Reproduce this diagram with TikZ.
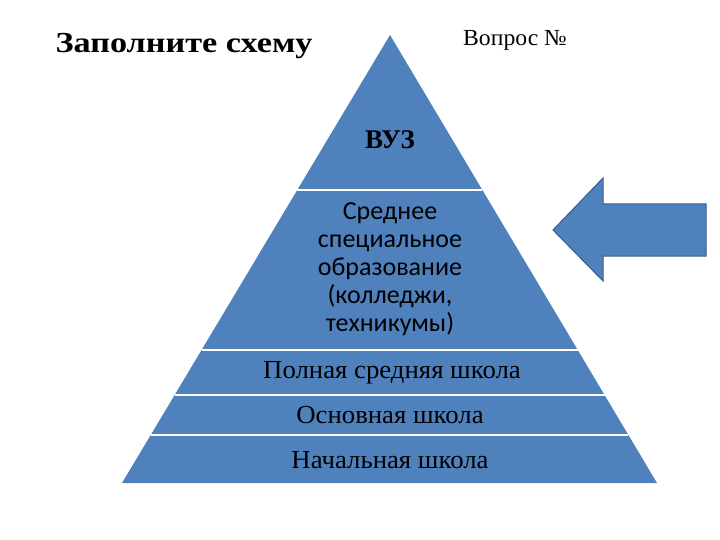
\documentclass[tikz,border=0pt]{standalone}
\usepackage{fontspec}
\setmainfont{Liberation Serif}
\newfontfamily\calib{Carlito}
\definecolor{pblue}{HTML}{4F81BD}
\definecolor{pedge}{HTML}{385D8A}
\begin{document}
\begin{tikzpicture}[x=1pt,y=-1pt,
  lbl/.style={inner sep=0pt,anchor=center},
  tier/.style={lbl,font=\fontsize{26}{30}\selectfont,xscale=1.03}]
\useasboundingbox (0,0) rectangle (720,540);
\coordinate (A) at (390,35);
\coordinate (L1) at (297.3,190); \coordinate (R1) at (482.4,190);
\coordinate (L2) at (201.6,350); \coordinate (R2) at (577.7,350);
\coordinate (L3) at (174.7,395); \coordinate (R3) at (604.6,395);
\coordinate (L4) at (150.8,435); \coordinate (R4) at (628.4,435);
\coordinate (L5) at (122,483); \coordinate (R5) at (657,483);
\fill[pblue] (A) -- (R5) -- (L5) -- cycle;
\draw[white,line width=1.5pt] (L1)--(R1) (L2)--(R2) (L3)--(R3) (L4)--(R4);
\draw[fill=pblue,draw=pedge,line width=1pt] (553,230) -- (603,178) -- (603,204) -- (706,204) -- (706,256) -- (603,256) -- (603,281) -- cycle;
\node[lbl,font=\bfseries\fontsize{29}{34}\selectfont,xscale=1.18] (t) at (184,46) {Заполните схему};
\node[lbl,font=\fontsize{23}{28}\selectfont,xscale=1.03] (q) at (515,40) {Вопрос №};
\node[lbl,font=\bfseries\fontsize{27}{32}\selectfont] (v) at (390,140) {ВУЗ};
\node[lbl,font=\calib\fontsize{26}{28}\selectfont,align=center] (s) at (390,269) {Среднее\\специальное\\образование\\(колледжи,\\техникумы)};
\node[tier] (p) at (392,373) {Полная средняя школа};
\node[tier] (o) at (390,415) {Основная школа};
\node[tier] (n) at (390,460) {Начальная школа};
\end{tikzpicture}
\end{document}
